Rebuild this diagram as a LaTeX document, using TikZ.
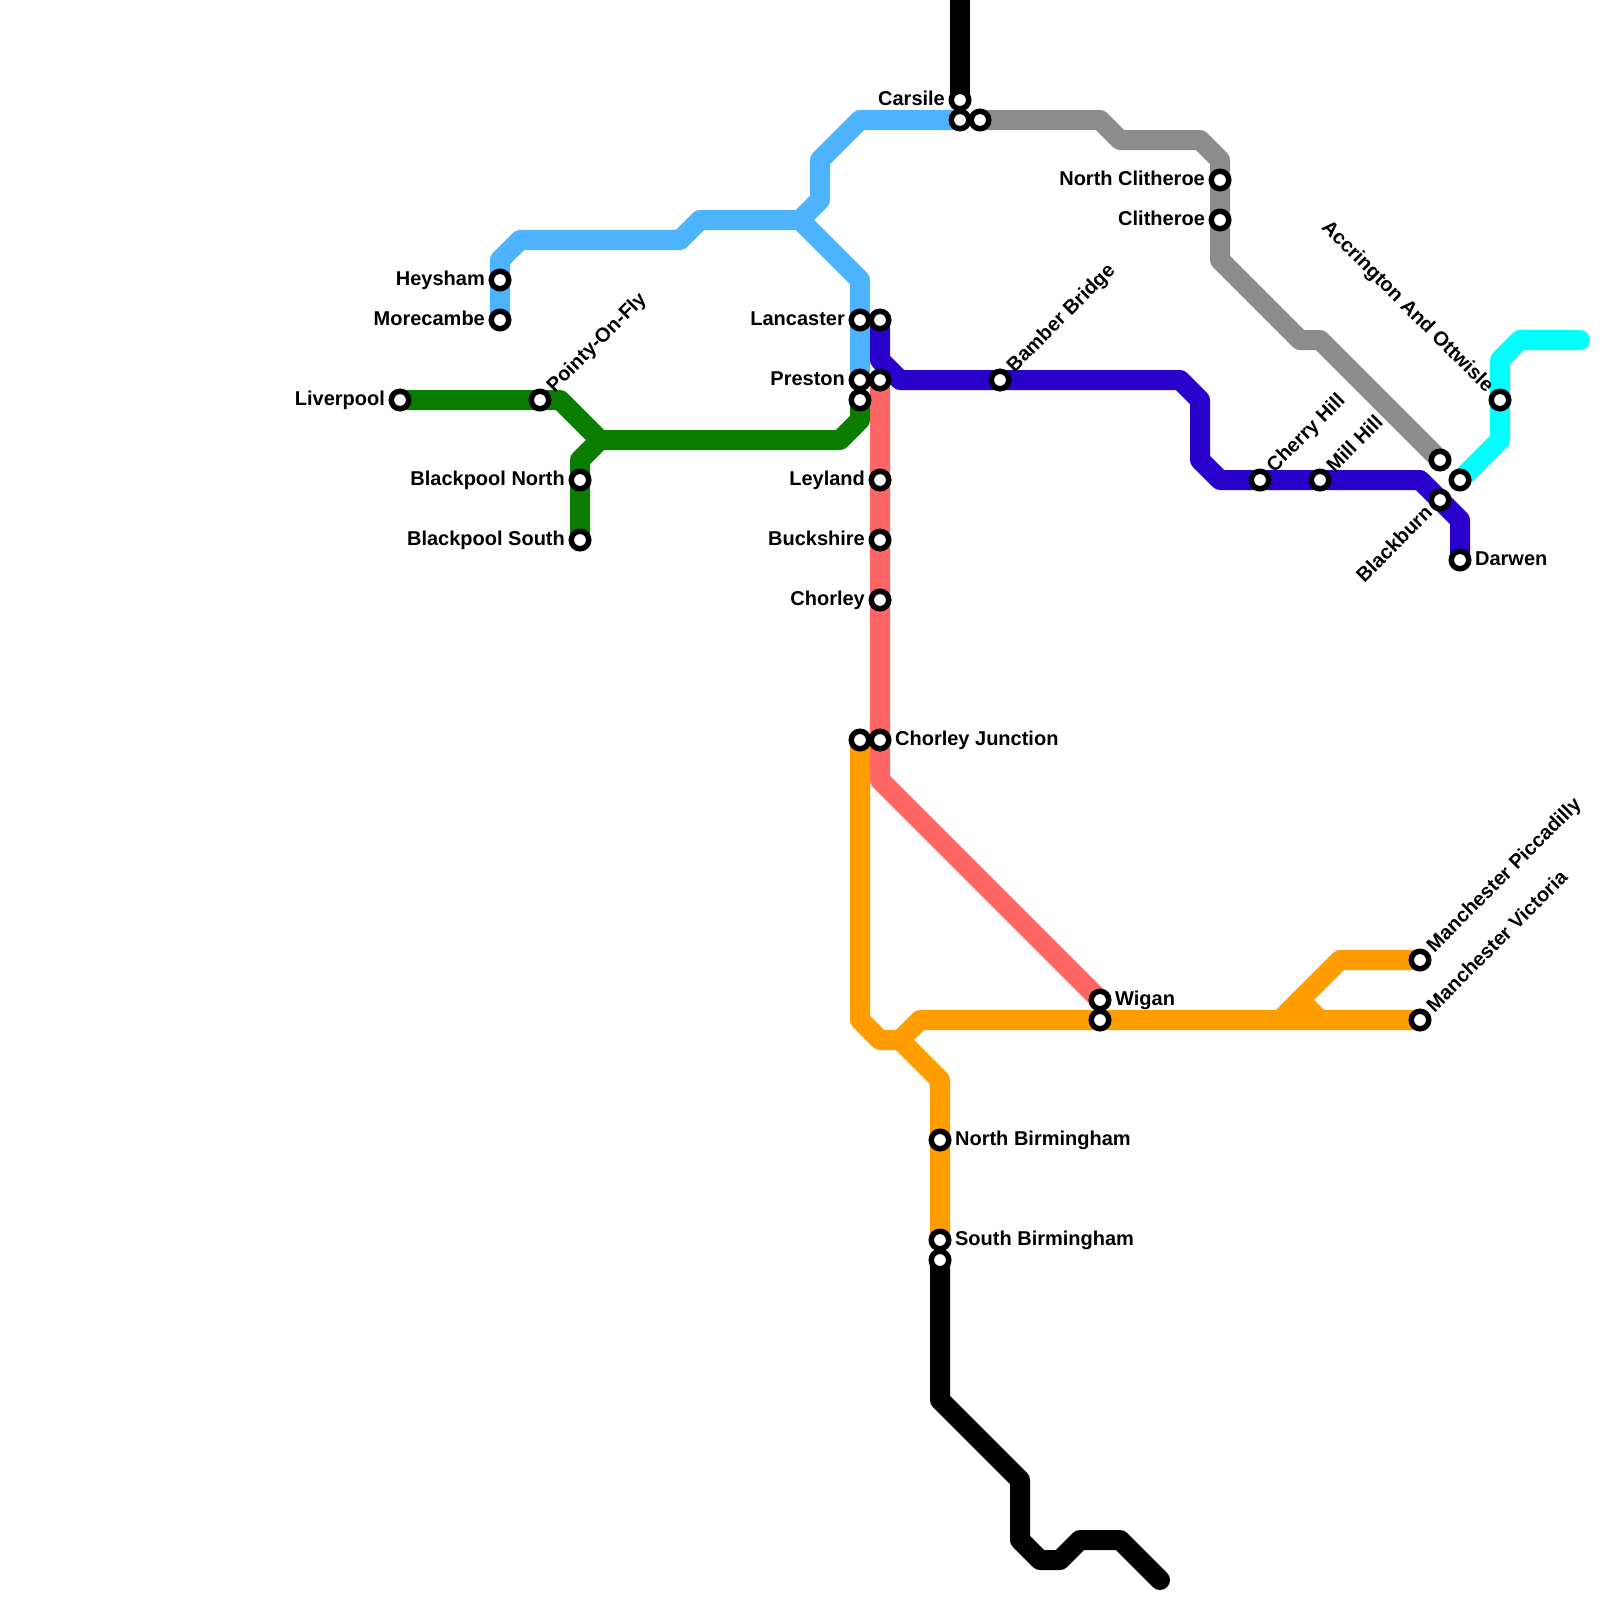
\documentclass[tikz,border=0pt]{standalone}
\usepackage{fontspec}
\setmainfont{Liberation Sans}
\definecolor{lblue}{HTML}{4DB3FF}
\definecolor{dgreen}{HTML}{0A7D00}
\definecolor{dblue}{HTML}{2A00CC}
\definecolor{lred}{HTML}{FF6666}
\definecolor{lorange}{HTML}{FF9D00}
\definecolor{lgray}{HTML}{8C8C8C}
\definecolor{lcyan}{HTML}{00FFFF}
\tikzset{
  metro/.style={line width=1cm,line join=round,line cap=round},
  stnode/.style={circle,draw=black,fill=white,line width=.275cm,minimum size=.875cm,inner sep=0pt,outer sep=0pt},
  lab/.style={inner sep=0pt,font=\fontsize{28.45pt}{30pt}\selectfont\bfseries,text=black},
  labE/.style={lab,anchor=base west,xshift=.75cm,yshift=-.27cm},
  labW/.style={lab,anchor=base east,xshift=-.75cm,yshift=-.27cm},
  labNE/.style={lab,rotate=45,anchor=base west,xshift=.75cm,yshift=-.27cm},
  labSW/.style={lab,rotate=45,anchor=base east,xshift=-.72cm,yshift=-.27cm},
  labNW/.style={lab,rotate=-45,anchor=base east,xshift=-.72cm,yshift=-.27cm}
}
\begin{document}
\begin{tikzpicture}[x=1cm,y=-1cm]
\fill[white] (0,0) rectangle (80,80);
\useasboundingbox (0,0) rectangle (80,80);
\clip (0,0) rectangle (80,80);
% station positions
\foreach \n/\p in {Heysham/{25,14},Morecambe/{25,16},Liverpool/{20,20},Pointy/{27,20},BpN/{29,24},BpS/{29,27},
  Lancaster/{43,16},LancR/{44,16},Preston/{43,19},PresR/{44,19},PresG/{43,20},Leyland/{44,24},Buckshire/{44,27},Chorley/{44,30},
  ChJL/{43,37},ChJ/{44,37},Carsile/{48,5},CarB/{48,6},CarG/{49,6},NClith/{61,9},Clith/{61,11},Bamber/{50,19},Cherry/{63,24},Mill/{66,24},
  Blackburn/{72,25},Darwen/{73,28},GrayEnd/{72,23},CyanEnd/{73,24},Accrington/{75,20},Wigan/{55,50},WigO/{55,51},
  ManP/{71,48},ManV/{71,51},NBir/{47,57},SBir/{47,62},SBirB/{47,63}}
  {\coordinate (\n) at (\p);}
\coordinate (TopB) at (48,-1);
\coordinate (EndB) at (58,79);
\coordinate (EndC) at (79,17);
% lines
\draw[metro,black] (TopB) -- (Carsile);
\draw[metro,black] (SBirB) -- (47,70) -- (51,74) -- (51,77) -- (52,78) -- (53,78) -- (54,77) -- (56,77) -- (EndB);
\draw[metro,lgray] (CarG) -- (55,6) -- (56,7) -- (60,7) -- (61,8) -- (NClith) -- (Clith) -- (61,13) -- (65,17) -- (66,17) -- (GrayEnd);
\draw[metro,lred] (PresR) -- (Leyland) -- (Buckshire) -- (Chorley) -- (ChJ) -- (44,39) -- (Wigan);
\draw[metro,lblue] (Morecambe) -- (Heysham) -- (25,13) -- (26,12) -- (34,12) -- (35,11) -- (40,11) -- (41,10) -- (41,8) -- (43,6) -- (CarB);
\draw[metro,lblue] (40,11) -- (43,14) -- (Lancaster) -- (Preston);
\draw[metro,dblue] (LancR) -- (44,18) -- (45,19) -- (Bamber) -- (59,19) -- (60,20) -- (60,23) -- (61,24) -- (Cherry) -- (Mill) -- (71,24) -- (Blackburn) -- (73,26) -- (Darwen);
\draw[metro,dgreen] (Liverpool) -- (Pointy) -- (28,20) -- (30,22) -- (42,22) -- (43,21) -- (PresG);
\draw[metro,dgreen] (BpS) -- (BpN) -- (29,23) -- (30,22);
\draw[metro,lorange] (ChJL) -- (43,51) -- (44,52) -- (45,52) -- (46,51) -- (WigO) -- (ManV);
\draw[metro,lorange] (45,52) -- (47,54) -- (NBir) -- (SBir);
\draw[metro,lorange] (64,51) -- (67,48) -- (ManP);
\draw[metro,lorange] (65,50) -- (66,51);
\draw[metro,lcyan] (CyanEnd) -- (75,22) -- (Accrington) -- (75,18) -- (76,17) -- (EndC);
% stations
\foreach \n in {Heysham,Morecambe,Liverpool,Pointy,BpN,BpS,Lancaster,LancR,Preston,PresR,PresG,Leyland,Buckshire,Chorley,ChJL,ChJ,Carsile,CarB,CarG,NClith,Clith,Bamber,Cherry,Mill,Blackburn,Darwen,GrayEnd,CyanEnd,Accrington,Wigan,WigO,ManP,ManV,NBir,SBir,SBirB}
  {\node[stnode] (st\n) at (\n) {};}
% labels
\node[labW] (lHeysham) at (Heysham) {Heysham};
\node[labW] (lMorecambe) at (Morecambe) {Morecambe};
\node[labW] (lLiverpool) at (Liverpool) {Liverpool};
\node[labNE] (lPointy) at (Pointy) {Pointy-On-Fly};
\node[labW] (lBpN) at (BpN) {Blackpool North};
\node[labW] (lBpS) at (BpS) {Blackpool South};
\node[labW] (lLancaster) at (Lancaster) {Lancaster};
\node[labW] (lPreston) at (Preston) {Preston};
\node[labW] (lLeyland) at (Leyland) {Leyland};
\node[labW] (lBuckshire) at (Buckshire) {Buckshire};
\node[labW] (lChorley) at (Chorley) {Chorley};
\node[labE] (lChJ) at (ChJ) {Chorley Junction};
\node[labW] (lCarsile) at (Carsile) {Carsile};
\node[labW] (lNClith) at (NClith) {North Clitheroe};
\node[labW] (lClith) at (Clith) {Clitheroe};
\node[labNE] (lBamber) at (Bamber) {Bamber Bridge};
\node[labNE] (lCherry) at (Cherry) {Cherry Hill};
\node[labNE] (lMill) at (Mill) {Mill Hill};
\node[labSW] (lBlackburn) at (Blackburn) {Blackburn};
\node[labE] (lDarwen) at (Darwen) {Darwen};
\node[labNW] (lAccrington) at (Accrington) {Accrington And Ottwisle};
\node[labE] (lWigan) at (Wigan) {Wigan};
\node[labNE] (lManP) at (ManP) {Manchester Piccadilly};
\node[labNE] (lManV) at (ManV) {Manchester Victoria};
\node[labE] (lNBir) at (NBir) {North Birmingham};
\node[labE] (lSBir) at (SBir) {South Birmingham};
\end{tikzpicture}
\end{document}
